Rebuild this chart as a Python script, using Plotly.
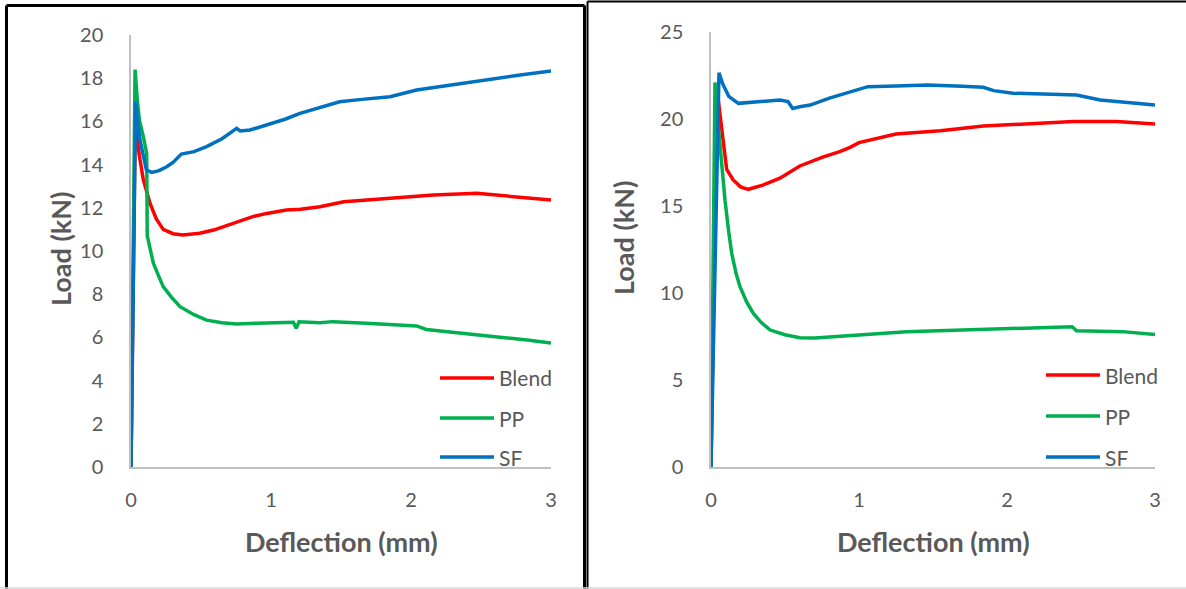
import plotly.graph_objects as go

# ---- Panel A: load vs deflection (0-20 kN) ----
a_blend_x = [0, 0.03, 0.06, 0.088, 0.136, 0.18, 0.23, 0.3, 0.37, 0.49, 0.59, 0.73, 0.87, 0.97, 1.11,
             1.21, 1.35, 1.52, 1.8, 2.16, 2.47, 2.73, 3.0]
a_blend_y = [0, 15.8, 14.4, 13.3, 12.2, 11.5, 11.0, 10.8, 10.74, 10.82, 10.97, 11.28, 11.59, 11.74, 11.9,
             11.93, 12.05, 12.28, 12.4, 12.59, 12.67, 12.51, 12.36]

a_pp_x = [0, 0.029, 0.045, 0.06, 0.088, 0.112, 0.116, 0.135, 0.16, 0.2, 0.23, 0.29, 0.35, 0.45, 0.54,
          0.65, 0.755, 0.9, 1.11, 1.16, 1.18, 1.2, 1.35, 1.44, 1.68, 1.9, 2.04, 2.11, 2.35, 2.6, 2.83, 3.0]
a_pp_y = [0, 18.4, 17.0, 16.06, 15.29, 14.5, 10.7, 10.1, 9.43, 8.8, 8.35, 7.85, 7.42, 7.05, 6.8,
          6.68, 6.62, 6.66, 6.68, 6.7, 6.42, 6.72, 6.68, 6.73, 6.65, 6.6, 6.53, 6.37, 6.19, 6.03, 5.88, 5.74]

a_sf_x = [0, 0.033, 0.064, 0.11, 0.148, 0.2, 0.255, 0.3, 0.36, 0.45, 0.54, 0.65, 0.755, 0.78, 0.85,
          0.97, 1.1, 1.207, 1.35, 1.49, 1.65, 1.85, 2.04, 2.2, 2.33, 2.54, 2.78, 3.0]
a_sf_y = [0, 16.9, 15.14, 13.75, 13.64, 13.72, 13.9, 14.1, 14.49, 14.6, 14.83, 15.2, 15.68, 15.56, 15.6,
          15.83, 16.1, 16.37, 16.65, 16.91, 17.02, 17.14, 17.45, 17.6, 17.76, 17.92, 18.15, 18.33]

# ---- Panel B: load vs deflection (0-25 kN) ----
b_blend_x = [0, 0.04, 0.06, 0.083, 0.106, 0.15, 0.2, 0.252, 0.35, 0.466, 0.6, 0.75, 0.87, 0.94, 1.0,
             1.25, 1.55, 1.84, 2.1, 2.45, 2.74, 3.0]
b_blend_y = [0, 21.8, 20.3, 18.8, 17.1, 16.5, 16.1, 15.96, 16.2, 16.6, 17.3, 17.8, 18.12, 18.37, 18.64,
             19.14, 19.33, 19.6, 19.72, 19.85, 19.85, 19.71]

b_pp_x = [0, 0.027, 0.05, 0.075, 0.095, 0.12, 0.14, 0.17, 0.196, 0.24, 0.286, 0.34, 0.4, 0.5, 0.6,
          0.7, 0.87, 1.0, 1.32, 1.6, 1.84, 2.1, 2.44, 2.47, 2.6, 2.78, 3.0]
b_pp_y = [0, 22.1, 19.5, 17.0, 15.3, 13.5, 12.28, 11.1, 10.36, 9.5, 8.83, 8.3, 7.87, 7.6, 7.43,
          7.42, 7.49, 7.58, 7.78, 7.85, 7.91, 7.95, 8.06, 7.83, 7.82, 7.78, 7.62]

b_sf_x = [0, 0.054, 0.08, 0.12, 0.185, 0.25, 0.35, 0.466, 0.52, 0.552, 0.6, 0.67, 0.8, 0.94, 1.06,
          1.25, 1.46, 1.7, 1.84, 1.91, 2.04, 2.3, 2.47, 2.63, 2.8, 3.0]
b_sf_y = [0, 22.66, 22.0, 21.3, 20.9, 20.95, 21.0, 21.09, 21.0, 20.6, 20.7, 20.8, 21.2, 21.57, 21.86,
          21.9, 21.95, 21.88, 21.82, 21.63, 21.48, 21.42, 21.38, 21.09, 20.95, 20.8]

series_names = ["Blend", "PP", "SF"]
series_colors = ["#FF0000", "#00B050", "#0070C0"]

x_ticks = [0, 1, 2, 3]
a_y_ticks = [0, 2, 4, 6, 8, 10, 12, 14, 16, 18, 20]
b_y_ticks = [0, 5, 10, 15, 20, 25]

W, H = 1186, 589
FONT = "Lato"
GREY_TXT = "#595959"
AXIS_GREY = "#BFBFBF"


def px(x):
    return x / W


def py(y):
    return 1 - y / H


fig = go.Figure()

panel_a = [(a_blend_x, a_blend_y), (a_pp_x, a_pp_y), (a_sf_x, a_sf_y)]
panel_b = [(b_blend_x, b_blend_y), (b_pp_x, b_pp_y), (b_sf_x, b_sf_y)]

for (xs, ys), name, col in zip(panel_a, series_names, series_colors):
    fig.add_trace(go.Scatter(x=xs, y=ys, mode="lines", name=name, showlegend=False,
                             line=dict(color=col, width=3.5), xaxis="x", yaxis="y"))
for (xs, ys), name, col in zip(panel_b, series_names, series_colors):
    fig.add_trace(go.Scatter(x=xs, y=ys, mode="lines", name=name, showlegend=False,
                             line=dict(color=col, width=3.5), xaxis="x2", yaxis="y2"))

tick_font = dict(family=FONT, size=20, color=GREY_TXT)

common_x = dict(range=[0, 3], tickvals=x_ticks, showgrid=False, zeroline=False,
                showline=True, linecolor=AXIS_GREY, linewidth=1.5, ticks="",
                tickfont=tick_font, ticklabelstandoff=14, fixedrange=True)
common_y = dict(showgrid=False, zeroline=False, showline=True, linecolor=AXIS_GREY,
                linewidth=1.5, ticks="", tickfont=tick_font, ticklabelstandoff=22, fixedrange=True)

fig.update_layout(
    width=W, height=H, autosize=False, showlegend=False,
    margin=dict(l=0, r=0, t=0, b=0, pad=0, autoexpand=False),
    paper_bgcolor="white", plot_bgcolor="white",
    xaxis=dict(domain=[px(131), px(551)], anchor="y", **common_x),
    yaxis=dict(domain=[py(467), py(35)], anchor="x", range=[0, 20], tickvals=a_y_ticks, **common_y),
    xaxis2=dict(domain=[px(711), px(1155)], anchor="y2", **common_x),
    yaxis2=dict(domain=[py(467), py(32)], anchor="x2", range=[0, 25], tickvals=b_y_ticks, **common_y),
)

title_font = dict(family=FONT, size=27, color=GREY_TXT, weight="bold")
annotations = [
    dict(text="Deflection (mm)", x=px(341), y=py(541), xref="paper", yref="paper",
         showarrow=False, font=title_font, xanchor="center", yanchor="middle"),
    dict(text="Deflection (mm)", x=px(933), y=py(541), xref="paper", yref="paper",
         showarrow=False, font=title_font, xanchor="center", yanchor="middle"),
    dict(text="Load (kN)", x=px(60), y=py(249), xref="paper", yref="paper", textangle=-90,
         showarrow=False, font=title_font, xanchor="center", yanchor="middle"),
    dict(text="Load (kN)", x=px(623), y=py(238), xref="paper", yref="paper", textangle=-90,
         showarrow=False, font=title_font, xanchor="center", yanchor="middle"),
]

shapes = []
# legend keys for both panels
legend_specs = [(440, 494, [378, 418, 457]), (1046, 1100, [375, 416, 457])]
for x0, x1, rows in legend_specs:
    for name, col, yy in zip(series_names, series_colors, rows):
        shapes.append(dict(type="line", xref="paper", yref="paper", x0=px(x0), x1=px(x1),
                           y0=py(yy), y1=py(yy), line=dict(color=col, width=3.5)))
        annotations.append(dict(text=name, x=px(x1 + 3), y=py(yy), xref="paper", yref="paper",
                                showarrow=False, xanchor="left", yanchor="middle",
                                font=dict(family=FONT, size=21, color=GREY_TXT)))

# panel frames
black3 = dict(color="black", width=3)
black2 = dict(color="black", width=2)
frame_lines = [
    (6.5, 5.5, 6.5, 589, black3),
    (6.5, 5.5, 584.5, 5.5, black3),
    (584.5, 5.5, 584.5, 589, black3),
    (587.5, 1.5, 587.5, 589, black2),
    (587.5, 1.5, 1186, 1.5, black2),
]
for x0, y0, x1, y1, ln in frame_lines:
    shapes.append(dict(type="line", xref="paper", yref="paper", x0=px(x0), y0=py(y0),
                       x1=px(x1), y1=py(y1), line=ln))
shapes.append(dict(type="line", xref="paper", yref="paper", x0=0, x1=1, y0=py(588), y1=py(588),
                   line=dict(color="#D9D9D9", width=1.5)))

fig.update_layout(annotations=annotations, shapes=shapes)

fig.write_html("out.html")
